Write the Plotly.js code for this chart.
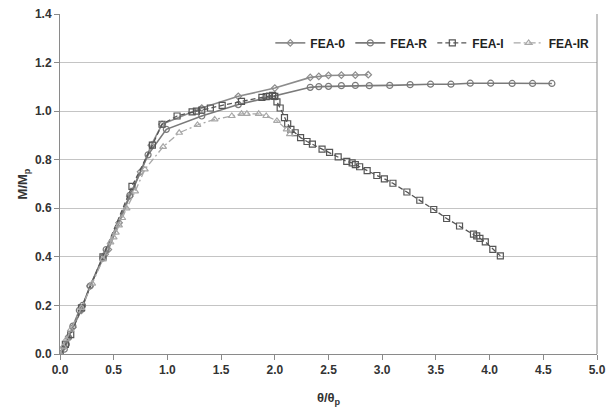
<!DOCTYPE html>
<html>
<head>
<meta charset="utf-8">
<script src="https://cdn.plot.ly/plotly-3.0.1.min.js"></script>
<style>html,body{margin:0;padding:0;background:#fff;}#chart{width:606px;height:417px;}</style>
</head>
<body>
<div id="chart"></div>
<script>
// FEA-0 (diamonds)
const fea0_x = [0, 0.04, 0.08, 0.12, 0.2, 0.28, 0.42, 0.45, 0.55, 0.65, 0.75, 0.85, 0.95, 1.32, 1.66, 2.0, 2.33, 2.41, 2.5, 2.62, 2.75, 2.87];
const fea0_y = [0, 0.03, 0.07, 0.11, 0.18, 0.28, 0.41, 0.43, 0.54, 0.65, 0.75, 0.86, 0.946, 1.013, 1.061, 1.095, 1.139, 1.143, 1.147, 1.148, 1.148, 1.150];
// FEA-R (circles)
const feaR_x = [0, 0.04, 0.06, 0.08, 0.12, 0.18, 0.21, 0.28, 0.40, 0.43, 0.65, 0.82, 0.99, 1.32, 1.66, 2.0, 2.33, 2.41, 2.5, 2.62, 2.75, 2.88, 3.07, 3.26, 3.45, 3.64, 3.82, 4.01, 4.21, 4.40, 4.58];
const feaR_y = [0, 0.02, 0.04, 0.068, 0.115, 0.18, 0.20, 0.28, 0.395, 0.43, 0.653, 0.82, 0.925, 0.98, 1.027, 1.062, 1.098, 1.101, 1.102, 1.105, 1.106, 1.105, 1.106, 1.109, 1.111, 1.111, 1.115, 1.115, 1.114, 1.114, 1.114];
// FEA-I (squares)
const feaI_x = [0, 0.05, 0.1, 0.2, 0.4, 0.67, 0.86, 0.95, 1.09, 1.23, 1.27, 1.32, 1.40, 1.51, 1.69, 1.88, 1.92, 1.95, 1.98, 2.00, 2.02, 2.05, 2.09, 2.12, 2.15, 2.19, 2.24, 2.30, 2.35, 2.44, 2.51, 2.59, 2.67, 2.72, 2.75, 2.79, 2.86, 2.95, 3.02, 3.10, 3.23, 3.35, 3.48, 3.60, 3.72, 3.85, 3.88, 3.91, 3.96, 4.03, 4.10];
const feaI_y = [0, 0.04, 0.08, 0.19, 0.40, 0.69, 0.86, 0.946, 0.98, 0.997, 1.0, 1.004, 1.013, 1.024, 1.040, 1.057, 1.060, 1.062, 1.065, 1.061, 1.038, 1.013, 0.973, 0.948, 0.925, 0.911, 0.891, 0.875, 0.864, 0.844, 0.830, 0.812, 0.793, 0.787, 0.780, 0.771, 0.755, 0.735, 0.721, 0.703, 0.667, 0.633, 0.595, 0.558, 0.527, 0.494, 0.486, 0.476, 0.462, 0.431, 0.404];
// FEA-IR (triangles)
const feaIR_x = [0, 0.03, 0.06, 0.1, 0.2, 0.3, 0.4, 0.47, 0.5, 0.52, 0.55, 0.58, 0.62, 0.7, 0.79, 0.96, 1.11, 1.28, 1.44, 1.60, 1.69, 1.74, 1.85, 1.92, 2.02, 2.11, 2.14];
const feaIR_y = [0, 0.03, 0.06, 0.1, 0.19, 0.29, 0.39, 0.46, 0.48, 0.5, 0.53, 0.56, 0.6, 0.67, 0.76, 0.853, 0.911, 0.943, 0.966, 0.98, 0.989, 0.989, 0.989, 0.98, 0.96, 0.925, 0.905];

const seriesNames = ["FEA-0", "FEA-R", "FEA-I", "FEA-IR"];
const xTicks = [0, 0.5, 1, 1.5, 2, 2.5, 3, 3.5, 4, 4.5, 5];
const xTickText = ["0.0","0.5","1.0","1.5","2.0","2.5","3.0","3.5","4.0","4.5","5.0"];
const yTicks = [0, 0.2, 0.4, 0.6, 0.8, 1.0, 1.2, 1.4];
const yTickText = ["0.0","0.2","0.4","0.6","0.8","1.0","1.2","1.4"];

const traces = [
  {x: fea0_x, y: fea0_y, name: seriesNames[0], mode: "lines+markers",
   line: {color: "#8c8c8c", width: 1.6},
   marker: {symbol: "diamond-open", size: 5, color: "#8c8c8c", line: {width: 1.2}}},
  {x: feaR_x, y: feaR_y, name: seriesNames[1], mode: "lines+markers",
   line: {color: "#7a7a7a", width: 1.6},
   marker: {symbol: "circle-open", size: 6, color: "#7a7a7a", line: {width: 1.2}}},
  {x: feaI_x, y: feaI_y, name: seriesNames[2], mode: "lines+markers",
   line: {color: "#555555", width: 1.3, dash: "5px,3px"},
   marker: {symbol: "square-open", size: 6, color: "#555555", line: {width: 1.2}}},
  {x: feaIR_x, y: feaIR_y, name: seriesNames[3], mode: "lines+markers",
   line: {color: "#a8a8a8", width: 1.3, dash: "7px,3px,2px,3px"},
   marker: {symbol: "triangle-up-open", size: 6, color: "#a8a8a8", line: {width: 1.2}}}
];

const fontFam = "Liberation Sans, Arial, sans-serif";
const layout = {
  width: 606, height: 417,
  margin: {l: 60, r: 9, t: 14, b: 63},
  paper_bgcolor: "#fff", plot_bgcolor: "#fff",
  font: {family: fontFam, size: 11, color: "#333"},
  showlegend: true,
  legend: {orientation: "h", x: 0.995, y: 0.915, xanchor: "right", yanchor: "middle",
           font: {family: fontFam, size: 12, color: "#222", weight: "bold"},
           bgcolor: "rgba(0,0,0,0)", itemwidth: 30, tracegroupgap: 0},
  xaxis: {range: [0, 5], tickvals: xTicks, ticktext: xTickText,
          showgrid: false, zeroline: false, showline: true, linecolor: "#8a8a8a", linewidth: 1,
          ticks: "outside", ticklen: 5, tickcolor: "#8a8a8a",
          tickfont: {family: fontFam, size: 12, color: "#333", weight: "bold"},
          title: {text: "θ/θ<sub>p</sub>", font: {family: fontFam, size: 13, color: "#333", weight: "bold"}, standoff: 16}},
  yaxis: {range: [0, 1.4], tickvals: yTicks, ticktext: yTickText,
          showgrid: true, gridcolor: "#c4c4c4", gridwidth: 1, zeroline: false,
          showline: true, linecolor: "#8a8a8a", linewidth: 1,
          ticks: "outside", ticklen: 5, tickcolor: "#8a8a8a",
          tickfont: {family: fontFam, size: 12, color: "#333", weight: "bold"},
          title: {text: "M/M<sub>p</sub>", font: {family: fontFam, size: 13, color: "#333", weight: "bold"}, standoff: 4}},
  shapes: [
    {type: "line", xref: "paper", yref: "paper", x0: 1, x1: 1, y0: 0, y1: 1, line: {color: "#8a8a8a", width: 1}}
  ]
};

Plotly.newPlot("chart", traces, layout, {displayModeBar: false, staticPlot: true});
</script>
</body>
</html>
